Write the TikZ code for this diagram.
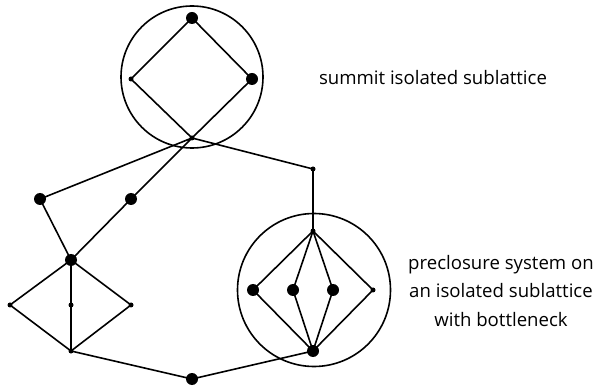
\documentclass[tikz,border=0pt]{standalone}
\usepackage{fontspec}
\setmainfont{Open Sans}
\begin{document}
\begin{tikzpicture}[x=1pt,y=-1pt,
  big/.style={circle,fill=black,inner sep=0pt,minimum size=12pt},
  small/.style={circle,fill=black,inner sep=0pt,minimum size=5pt},
  ln/.style={line width=1.6pt},
  ring/.style={circle,draw,line width=1.6pt,inner sep=0pt},
  lbl/.style={font=\fontsize{18.6}{28.5}\selectfont,align=center,inner sep=0pt}]
\useasboundingbox (0,0) rectangle (605,387);
% rings
\node[ring,minimum size=142pt] (c1) at (192,77) {};
\node[ring,minimum size=153pt] (c2) at (314,290) {};
% nodes
\node[big] (t1) at (192,18) {};
\node[small] (l1) at (131,79) {};
\node[big] (r1) at (252,79) {};
\coordinate (b1) at (192,138);
\node[big] (a) at (40,199) {};
\node[big] (c) at (131,199) {};
\node[big] (d) at (71,260) {};
\node[small] (e) at (313,169) {};
\node[small] (f) at (313,231) {};
\node[small] (g1) at (10,305) {};
\node[small] (g2) at (71,305) {};
\node[small] (g3) at (131,305) {};
\node[small] (h) at (71,351) {};
\node[big] (k) at (192,379) {};
\node[big] (m) at (313,351) {};
\node[big] (p1) at (253,290) {};
\node[big] (p2) at (293,290) {};
\node[big] (p3) at (333,290) {};
\node[small] (p4) at (373,290) {};
\fill (b1) circle (2.5pt);
% edges
\draw[ln] (t1.center) -- (l1.center) -- (b1) -- (r1.center) -- (t1.center);
\draw[ln] (b1) -- (a.center) -- (d.center) -- (c.center) -- (b1);
\draw[ln] (b1) -- (e.center) -- (f.center);
\foreach \g in {g1,g2,g3} \draw[ln] (d.center) -- (\g.center) -- (h.center);
\draw[ln] (h.center) -- (k.center) -- (m.center);
\foreach \p in {p1,p2,p3,p4} \draw[ln] (f.center) -- (\p.center) -- (m.center);
% labels
\node[lbl] (s1) at (433,78) {summit isolated sublattice};
\node[lbl] (s2) at (501,291) {preclosure system on\\an isolated sublattice\\with bottleneck};
\end{tikzpicture}
\end{document}
